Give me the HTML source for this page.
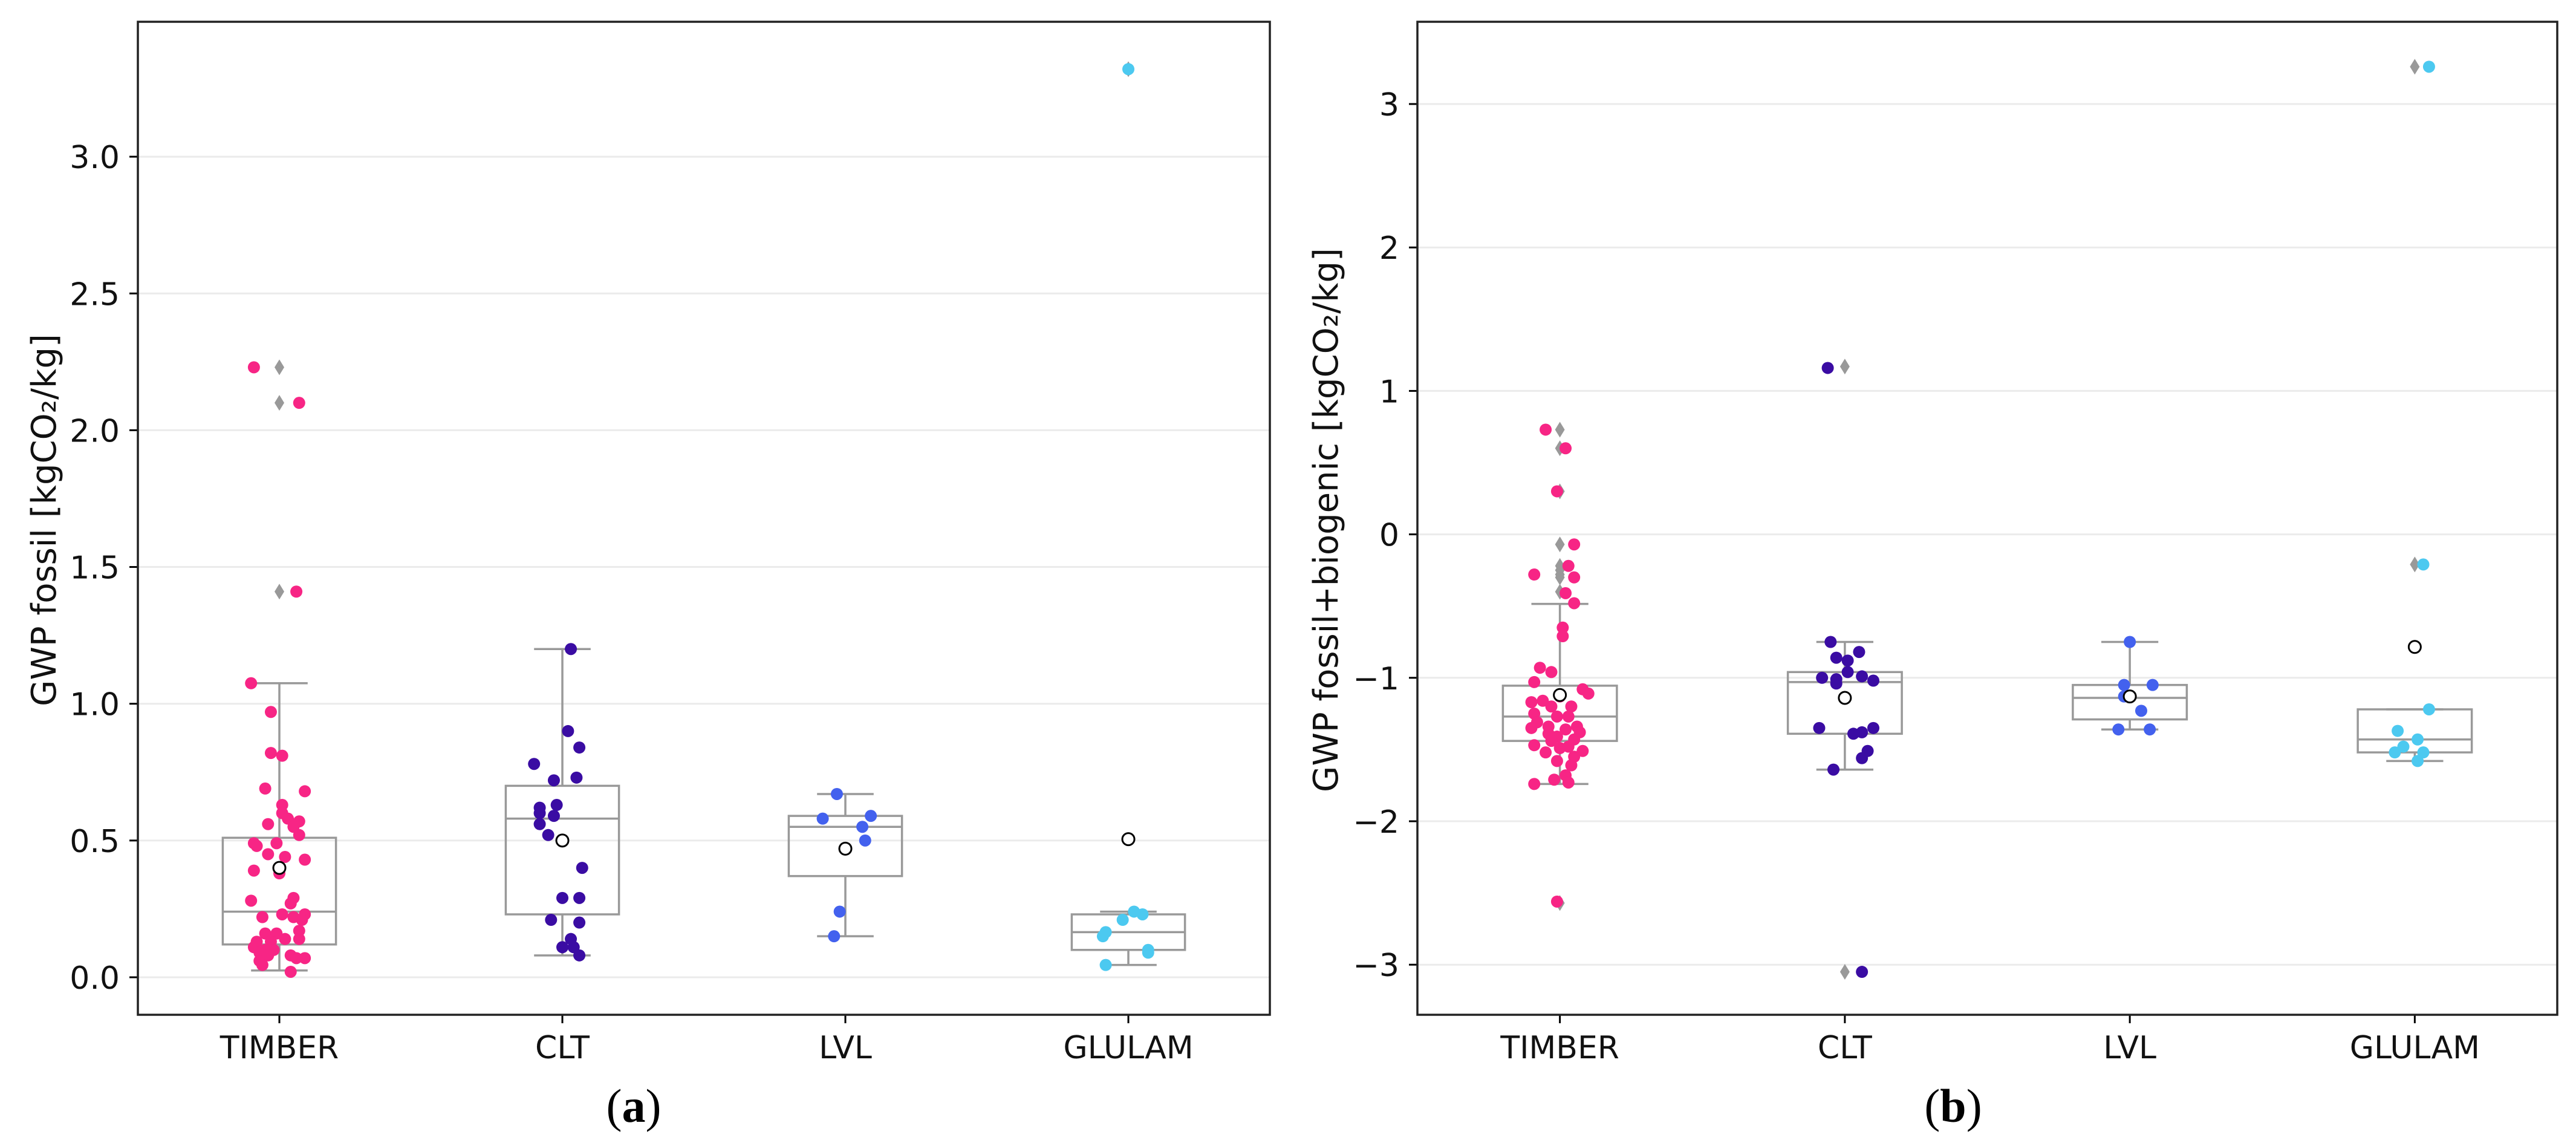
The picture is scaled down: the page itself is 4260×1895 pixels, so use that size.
<!DOCTYPE html>
<html><head><meta charset="utf-8">
<style>
html,body{margin:0;padding:0;background:#fff;}
svg{display:block;}
text{font-family:"DejaVu Sans","Liberation Sans",sans-serif;}
</style></head>
<body>
<svg id="chart" width="4260" height="1895" viewBox="0 0 4260 1895" xmlns="http://www.w3.org/2000/svg"></svg>
<script>
// ---- shared data ----
const categories = ["TIMBER","CLT","LVL","GLULAM"];
const colors = ["#f72585","#3a0ca3","#4361ee","#4cc9f0"];

// ---- panel (a): GWP fossil ----
const aTicks = [0.0,0.5,1.0,1.5,2.0,2.5,3.0];
const aTickLabels = ["0.0","0.5","1.0","1.5","2.0","2.5","3.0"];
const aQ1 = [0.12,0.23,0.37,0.10];
const aMed = [0.24,0.58,0.55,0.165];
const aQ3 = [0.51,0.70,0.59,0.23];
const aWLo = [0.025,0.08,0.15,0.045];
const aWHi = [1.075,1.20,0.67,0.24];
const aMean = [0.40,0.50,0.47,0.505];
const aOutTimber = [2.23,2.10,1.41];
const aOutClt = [];
const aOutLvl = [];
const aOutGlulam = [3.32];
const aTimberV = [2.23,2.10,1.41,1.075,0.97,0.82,0.81,0.69,0.68,0.63,0.56,0.60,0.58,0.57,0.55,0.52,0.49,0.48,0.49,0.45,0.44,0.43,0.40,0.39,0.38,0.28,0.29,0.27,0.22,0.23,0.23,0.22,0.21,0.16,0.16,0.17,0.13,0.13,0.14,0.14,0.11,0.10,0.10,0.09,0.08,0.08,0.07,0.06,0.07,0.045,0.02];
const aTimberJ = [-0.09,0.07,0.06,-0.1,-0.03,-0.03,0.01,-0.05,0.09,0.01,-0.04,0.01,0.03,0.07,0.05,0.07,-0.09,-0.08,-0.01,-0.04,0.02,0.09,0,-0.09,0,-0.1,0.05,0.04,-0.06,0.01,0.09,0.05,0.08,-0.05,-0.01,0.07,-0.08,-0.03,0.02,0.07,-0.09,-0.05,-0.02,-0.07,-0.04,0.04,0.09,-0.07,0.06,-0.06,0.04];
const aCltV = [1.20,0.90,0.84,0.78,0.73,0.72,0.62,0.63,0.60,0.59,0.56,0.52,0.40,0.29,0.29,0.21,0.20,0.14,0.11,0.11,0.08];
const aCltJ = [0.03,0.02,0.06,-0.1,0.05,-0.03,-0.08,-0.02,-0.08,-0.03,-0.08,-0.05,0.07,0,0.06,-0.04,0.06,0.03,0,0.04,0.06];
const aLvlV = [0.67,0.58,0.59,0.55,0.50,0.24,0.15];
const aLvlJ = [-0.03,-0.08,0.09,0.06,0.07,-0.02,-0.04];
const aGluV = [3.32,0.24,0.23,0.21,0.165,0.15,0.10,0.09,0.045];
const aGluJ = [0,0.02,0.05,-0.02,-0.08,-0.09,0.07,0.07,-0.08];

// ---- panel (b): GWP fossil+biogenic ----
const bTicks = [-3,-2,-1,0,1,2,3];
const bTickLabels = ["\u22123","\u22122","\u22121","0","1","2","3"];
const bQ1 = [-1.44,-1.39,-1.29,-1.52];
const bMed = [-1.27,-1.03,-1.14,-1.43];
const bQ3 = [-1.055,-0.96,-1.05,-1.22];
const bWLo = [-1.74,-1.64,-1.36,-1.58];
const bWHi = [-0.485,-0.75,-0.75,-1.22];
const bMean = [-1.12,-1.14,-1.13,-0.785];
const bOutTimber = [0.73,0.60,0.30,-0.07,-0.22,-0.25,-0.28,-0.30,-0.40,-2.57];
const bOutClt = [1.17,-3.05];
const bOutLvl = [];
const bOutGlulam = [3.26,-0.21];
const bTimberV = [0.73,0.60,0.30,-0.07,-0.28,-0.22,-0.30,-0.41,-0.48,-0.65,-0.71,-0.93,-0.96,-1.03,-1.08,-1.11,-1.13,-1.16,-1.17,-1.20,-1.20,-1.25,-1.27,-1.27,-1.31,-1.34,-1.34,-1.35,-1.36,-1.38,-1.39,-1.41,-1.43,-1.47,-1.44,-1.48,-1.51,-1.52,-1.49,-1.55,-1.58,-1.61,-1.68,-1.71,-1.74,-1.73,-2.56];
const bTimberJ = [-0.05,0.02,-0.01,0.05,-0.09,0.03,0.05,0.02,0.05,0.01,0.01,-0.07,-0.03,-0.09,0.08,0.1,0,-0.06,-0.1,-0.03,0.04,-0.09,-0.01,0.03,-0.08,-0.04,0.06,-0.1,0.02,0.07,-0.04,-0.01,0.05,-0.09,-0.03,0.03,0.08,-0.05,0,0.05,-0.01,0.04,0.02,-0.02,-0.09,0.03,-0.01];
const bCltV = [1.16,-3.05,-0.75,-0.82,-0.86,-0.88,-0.96,-1.0,-1.01,-0.99,-1.02,-1.04,-1.35,-1.39,-1.38,-1.35,-1.51,-1.56,-1.64];
const bCltJ = [-0.06,0.06,-0.05,0.05,-0.03,0.01,0.01,-0.08,-0.03,0.06,0.10,-0.03,-0.09,0.03,0.06,0.10,0.08,0.06,-0.04];
const bLvlV = [-0.75,-1.05,-1.05,-1.13,-1.13,-1.23,-1.36,-1.36];
const bLvlJ = [0,-0.02,0.08,-0.02,0,0.04,-0.04,0.07];
const bGluV = [3.26,-0.21,-1.22,-1.37,-1.43,-1.48,-1.52,-1.52,-1.58];
const bGluJ = [0.05,0.03,0.05,-0.06,0.01,-0.04,-0.07,0.03,0.01];

const NS = "http://www.w3.org/2000/svg";
const svg = document.getElementById("chart");
function mk(tag, attrs, parent, text){
  const e = document.createElementNS(NS, tag);
  for (const k in attrs) e.setAttribute(k, attrs[k]);
  if (text !== undefined) e.textContent = text;
  (parent||svg).appendChild(e);
  return e;
}

function panel(cfg){
  const g = mk("g", {});
  
  
  const L = cfg.left, R = cfg.right, T = 36, B = 1678;
  const step = (R - L) / categories.length;
  const xAt = (i, j) => L + step * (i + 0.5 + (j || 0));
  const yAt = v => cfg.y0 - v * cfg.unit;
  cfg.ticks.forEach((t, k) => {
    const y = yAt(t);
    const gl = mk("line", {x1:L, x2:R, y1:y, y2:y, stroke:"#ebebeb", "stroke-width":3}, g);
    
    
    const tk = mk("line", {x1:L-14, x2:L, y1:y, y2:y, stroke:"#000", "stroke-width":3}, g);
    
    
    const tl = mk("text", {x:L-30, y:y+19, "text-anchor":"end", "font-size":52, fill:"#111"}, g, cfg.tickLabels[k]);
    
    
  });
  const bw = step * 0.4;
  categories.forEach((c, i) => {
    const cx = xAt(i);
    const bg = mk("g", {}, g);
    
    
    const st = {stroke:"#999", "stroke-width":3.5, fill:"none"};
    mk("line", Object.assign({x1:cx, x2:cx, y1:yAt(cfg.q3[i]), y2:yAt(cfg.whi[i])}, st), bg);
    mk("line", Object.assign({x1:cx, x2:cx, y1:yAt(cfg.q1[i]), y2:yAt(cfg.wlo[i])}, st), bg);
    mk("line", Object.assign({x1:cx-bw/4, x2:cx+bw/4, y1:yAt(cfg.whi[i]), y2:yAt(cfg.whi[i])}, st), bg);
    mk("line", Object.assign({x1:cx-bw/4, x2:cx+bw/4, y1:yAt(cfg.wlo[i]), y2:yAt(cfg.wlo[i])}, st), bg);
    mk("rect", Object.assign({x:cx-bw/2, y:yAt(cfg.q3[i]), width:bw, height:yAt(cfg.q1[i])-yAt(cfg.q3[i])}, st), bg);
    mk("line", Object.assign({x1:cx-bw/2, x2:cx+bw/2, y1:yAt(cfg.med[i]), y2:yAt(cfg.med[i])}, st), bg);
    cfg.outs[i].forEach(v => {
      const y = yAt(v);
      const d = mk("polygon", {points:`${cx},${y-13} ${cx+8},${y} ${cx},${y+13} ${cx-8},${y}`, fill:"#999"}, g);
      
      
    });
    cfg.vals[i].forEach((v, k) => {
      const p = mk("circle", {cx:xAt(i, cfg.jit[i][k]), cy:yAt(v), r:10, fill:colors[i]}, g);
      
      
    });
    const m = mk("circle", {cx:cx, cy:yAt(cfg.mean[i]), r:10, fill:"#fff", stroke:"#000", "stroke-width":3}, g);
    
    
    const xt = mk("line", {x1:cx, x2:cx, y1:B, y2:B+14, stroke:"#000", "stroke-width":3}, g);
    
    
    const xl = mk("text", {x:cx, y:B+72, "text-anchor":"middle", "font-size":52, fill:"#111"}, g, c);
    
    
  });
  const fr = mk("rect", {x:L, y:T, width:R-L, height:B-T, fill:"none", stroke:"#222", "stroke-width":3.5}, g);
  
  
  const yl = mk("text", {x:cfg.ylx, y:860, "text-anchor":"middle", "font-size":56, fill:"#111", transform:`rotate(-90 ${cfg.ylx} 860)`}, g, cfg.ylabel);
  
  
  const pl = mk("text", {x:cfg.plx, y:1855, "text-anchor":"middle", "font-size":78, fill:"#000", style:'font-family:"Liberation Serif",serif'}, g);
  
  
  mk("tspan", {}, pl, "(");
  mk("tspan", {"font-weight":"bold"}, pl, cfg.letter);
  mk("tspan", {}, pl, ")");
}

panel({name:"panel-a-fossil", left:228, right:2100, y0:1616, unit:452.3,
  ticks:aTicks, tickLabels:aTickLabels, q1:aQ1, med:aMed, q3:aQ3, wlo:aWLo, whi:aWHi, mean:aMean,
  outs:[aOutTimber,aOutClt,aOutLvl,aOutGlulam], vals:[aTimberV,aCltV,aLvlV,aGluV], jit:[aTimberJ,aCltJ,aLvlJ,aGluJ],
  ylabel:"GWP fossil [kgCO\u2082/kg]", ylx:92, letter:"a", plx:1048});
panel({name:"panel-b-fossil-biogenic", left:2344, right:4229, y0:883.6, unit:237.2,
  ticks:bTicks, tickLabels:bTickLabels, q1:bQ1, med:bMed, q3:bQ3, wlo:bWLo, whi:bWHi, mean:bMean,
  outs:[bOutTimber,bOutClt,bOutLvl,bOutGlulam], vals:[bTimberV,bCltV,bLvlV,bGluV], jit:[bTimberJ,bCltJ,bLvlJ,bGluJ],
  ylabel:"GWP fossil+biogenic [kgCO\u2082/kg]", ylx:2212, letter:"b", plx:3230});
</script>
</body></html>
